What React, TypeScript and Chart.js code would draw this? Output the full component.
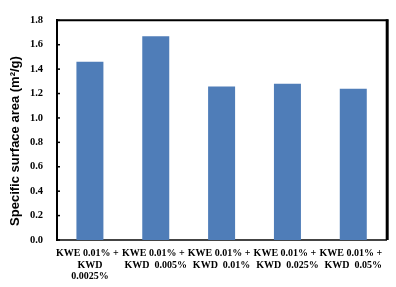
import React, { useEffect, useRef } from "react";
import { Chart, registerables } from "chart.js";

Chart.register(...registerables);

const categories: string[][] = [
  ["KWE 0.01% +  ", "KWD", "0.0025%"],
  ["KWE 0.01% +  ", "KWD  0.005%"],
  ["KWE 0.01% +  ", "KWD  0.01%"],
  ["KWE 0.01% +  ", "KWD  0.025%"],
  ["KWE 0.01% +  ", "KWD  0.05%"],
];
const surfaceArea: number[] = [1.46, 1.67, 1.257, 1.28, 1.24];
const yTicks: number[] = [0, 0.2, 0.4, 0.6, 0.8, 1.0, 1.2, 1.4, 1.6, 1.8];
const yTitle = "Specific surface area (m\u00b2/g)";

const framePlugin = {
  id: "frame",
  afterDatasetsDraw(chart: any) {
    const { ctx, chartArea } = chart;
    const { left, right, top, bottom } = chartArea;
    ctx.save();
    ctx.strokeStyle = "#000";
    ctx.lineWidth = 2;
    ctx.beginPath();
    ctx.moveTo(left - 1, top);
    ctx.lineTo(right + 2, top);
    ctx.stroke();
    ctx.lineWidth = 3;
    ctx.beginPath();
    ctx.moveTo(right + 1, top - 1);
    ctx.lineTo(right + 1, bottom);
    ctx.stroke();
    const ys = chart.scales.y;
    ctx.lineWidth = 1.5;
    ys.ticks.forEach((t: any) => {
      const y = ys.getPixelForValue(t.value);
      ctx.beginPath();
      ctx.moveTo(left, y);
      ctx.lineTo(left + 3, y);
      ctx.stroke();
    });
    // y axis title
    ctx.translate(15, 141);
    ctx.rotate(-Math.PI / 2);
    ctx.fillStyle = "#000";
    ctx.font = "bold 13px 'Liberation Sans', Arial, sans-serif";
    ctx.textAlign = "center";
    ctx.textBaseline = "middle";
    ctx.fillText(yTitle, 0, 0);
    ctx.restore();
  },
};

export default function App() {
  const ref = useRef<HTMLCanvasElement>(null);
  useEffect(() => {
    if (!ref.current) return;
    const chart = new Chart(ref.current, {
      type: "bar",
      data: {
        labels: categories,
        datasets: [
          {
            data: surfaceArea,
            backgroundColor: "#4F7DB8",
            barPercentage: 0.41,
            categoryPercentage: 1,
          },
        ],
      },
      options: {
        animation: false,
        responsive: false,
        maintainAspectRatio: false,
        layout: { padding: { left: 0, right: 9, top: 17, bottom: 0 } },
        plugins: { legend: { display: false }, tooltip: { enabled: false } },
        scales: {
          x: {
            grid: { display: false, drawTicks: false },
            border: { display: true, color: "#444", width: 2 },
            ticks: {
              color: "#000",
              font: { family: "Liberation Serif", weight: "bold", size: 10, lineHeight: 1.15 },
              maxRotation: 0,
              autoSkip: false,
              padding: 8,
            },
            afterFit: (s: any) => {
              s.height = 47;
            },
          },
          y: {
            min: 0,
            max: 1.8,
            afterBuildTicks: (s: any) => {
              s.ticks = yTicks.map((v) => ({ value: v }));
            },
            grid: { display: false, drawTicks: false },
            border: { display: true, color: "#000", width: 2 },
            ticks: {
              color: "#000",
              font: { family: "Liberation Serif", weight: "bold", size: 10.5 },
              padding: 14,
              callback: (v: any) => Number(v).toFixed(1),
            },
            afterFit: (s: any) => {
              s.width = 57;
            },
          },
        },
      },
      plugins: [framePlugin],
    });
    return () => chart.destroy();
  }, []);
  return (
    <div style={{ position: "fixed", left: 0, top: 0, width: 396, height: 287, background: "#fff" }}>
      <canvas ref={ref} width={396} height={287} style={{ width: 396, height: 287 }} />
    </div>
  );
}
